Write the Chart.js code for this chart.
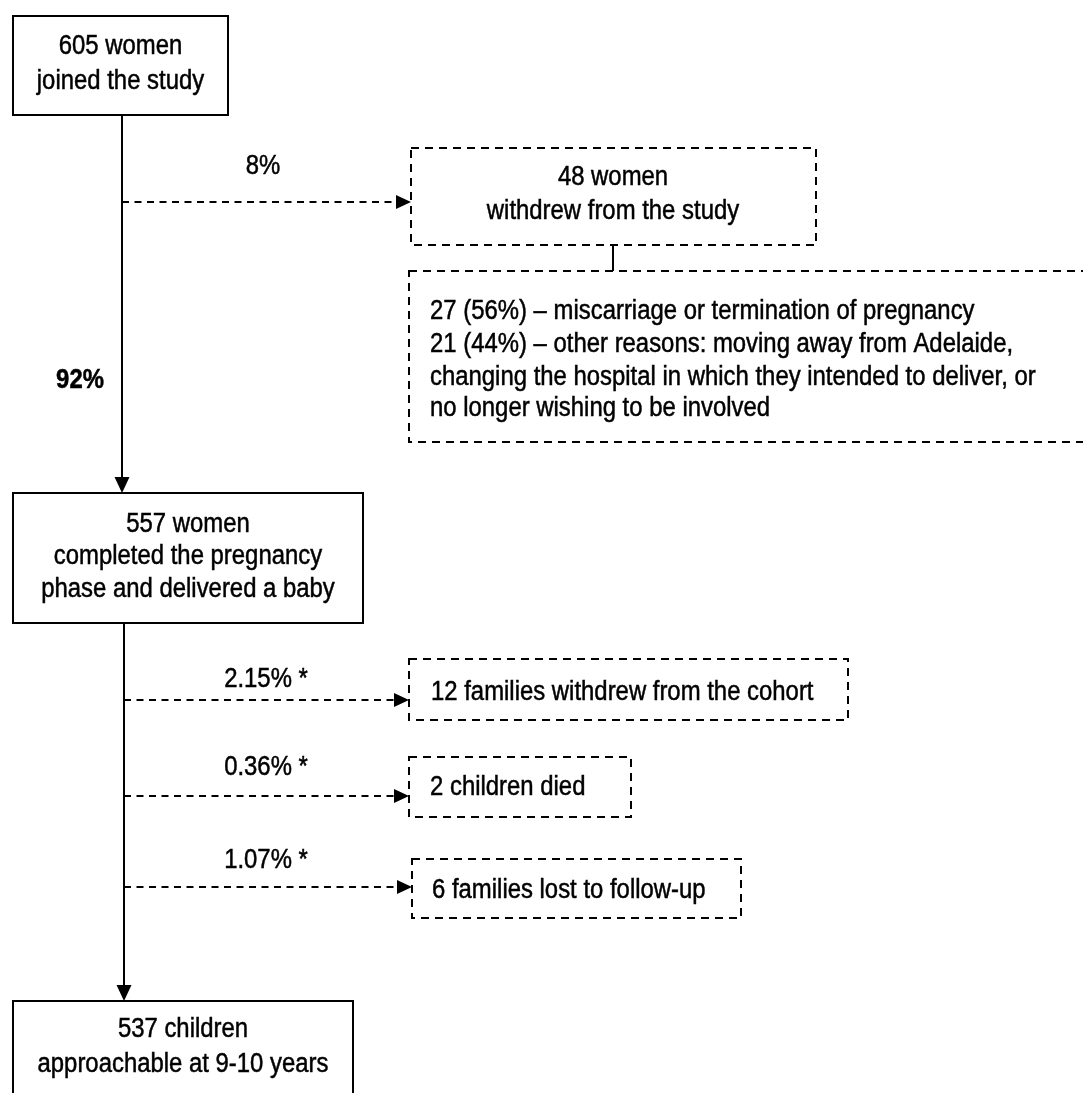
<!DOCTYPE html>
<html>
<head>
<meta charset="utf-8">
<script src="https://cdn.jsdelivr.net/npm/chart.js@4.4.0/dist/chart.umd.min.js"></script>
<style>
  html, body { margin: 0; padding: 0; background: #fff; }
  #wrap { width: 1083px; height: 1093px; position: relative; }
</style>
</head>
<body>
<div id="wrap"><canvas id="flow"></canvas></div>
<script>
// Cohort numbers
const stageCounts = [605, 557, 537];
const stageTexts = [
    ['women', 'joined the study'],
    ['women', 'completed the pregnancy', 'phase and delivered a baby'],
    ['children', 'approachable at 9-10 years']
];
const retainedLabel = '92%';
const exitCounts = [48, 12, 2, 6];
const exitTexts = ['women', 'families withdrew from the cohort', 'children died', 'families lost to follow-up'];
const exitSubText = 'withdrew from the study';
const exitPercents = ['8%', '2.15% *', '0.36% *', '1.07% *'];
const reasonLines = [
    '27 (56%) – miscarriage or termination of pregnancy',
    '21 (44%) – other reasons: moving away from Adelaide,',
    'changing the hospital in which they intended to deliver, or',
    'no longer wishing to be involved'
];

// Layout, in axis units (x 0-1083, y 0-1093 top-down)
const stageBoxes = [
    {x0: 13, y0: 16, x1: 228, y1: 115, cx: 120.5, lines: [54, 89]},
    {x0: 13, y0: 493, x1: 363, y1: 623, cx: 188, lines: [532, 564, 597]},
    {x0: 13, y0: 1001, x1: 353, y1: 1110, cx: 183, lines: [1037, 1072]}
];
const trunkX = [122, 124];
const exitBoxes = [
    {x0: 411, y0: 148, x1: 816, y1: 245, arrowY: 202, labelX: 263, labelY: 174, cx: 613, lines: [185, 219]},
    {x0: 409, y0: 659, x1: 848, y1: 720, arrowY: 700, labelX: 266, labelY: 687, tx: 431, lines: [700]},
    {x0: 409, y0: 757, x1: 631, y1: 817, arrowY: 796, labelX: 266, labelY: 775, tx: 430, lines: [795]},
    {x0: 412, y0: 859, x1: 741, y1: 918, arrowY: 887, labelX: 266, labelY: 868, tx: 432, lines: [898]}
];
const reasonBox = {x0: 409, y0: 271, x1: 1095, y1: 442, tx: 430, lines: [319, 352, 385, 416]};
const retainedPos = {x: 80, y: 388};

const FONT = "'Liberation Sans', Arial, sans-serif";
const SQUEEZE = 0.885;

const flowPlugin = {
    id: 'flow',
    afterDraw(chart) {
        const ctx = chart.ctx;
        const px = v => chart.scales.x.getPixelForValue(v);
        const py = v => chart.scales.y.getPixelForValue(v);

        function text(str, x, y, align, bold) {
            ctx.save();
            ctx.font = (bold ? 'bold ' : '') + '27px ' + FONT;
            ctx.fillStyle = '#000';
            ctx.strokeStyle = '#000';
            ctx.lineWidth = 0.5;
            ctx.textAlign = align;
            ctx.textBaseline = 'alphabetic';
            ctx.translate(px(x), py(y));
            ctx.scale(SQUEEZE, 1);
            ctx.fillText(str, 0, 0);
            ctx.strokeText(str, 0, 0);
            ctx.restore();
        }

        function rect(b, dashed) {
            ctx.save();
            ctx.strokeStyle = '#000';
            ctx.lineWidth = 2;
            ctx.setLineDash(dashed ? [8, 6] : []);
            ctx.strokeRect(px(b.x0), py(b.y0), px(b.x1) - px(b.x0), py(b.y1) - py(b.y0));
            ctx.restore();
        }

        function line(x0, y0, x1, y1, dashed) {
            ctx.save();
            ctx.strokeStyle = '#000';
            ctx.lineWidth = 2;
            ctx.setLineDash(dashed ? [7, 5.5] : []);
            ctx.beginPath();
            ctx.moveTo(px(x0), py(y0));
            ctx.lineTo(px(x1), py(y1));
            ctx.stroke();
            ctx.restore();
        }

        function head(x, y, dir) {
            // filled triangle, tip at (x, y)
            const tx = px(x), ty = py(y);
            ctx.save();
            ctx.fillStyle = '#000';
            ctx.beginPath();
            if (dir === 'down') {
                ctx.moveTo(tx, ty);
                ctx.lineTo(tx - 7.5, ty - 16);
                ctx.lineTo(tx + 7.5, ty - 16);
            } else {
                ctx.moveTo(tx, ty);
                ctx.lineTo(tx - 15, ty - 7);
                ctx.lineTo(tx - 15, ty + 7);
            }
            ctx.closePath();
            ctx.fill();
            ctx.restore();
        }

        // main trunk
        line(trunkX[0], stageBoxes[0].y1, trunkX[0], stageBoxes[1].y0 - 12, false);
        head(trunkX[0], stageBoxes[1].y0, 'down');
        line(trunkX[1], stageBoxes[1].y1, trunkX[1], stageBoxes[2].y0 - 12, false);
        head(trunkX[1], stageBoxes[2].y0, 'down');

        // stage boxes
        stageBoxes.forEach((b, i) => {
            rect(b, false);
            const lines = [stageCounts[i] + ' ' + stageTexts[i][0]].concat(stageTexts[i].slice(1));
            lines.forEach((s, j) => text(s, b.cx, b.lines[j], 'center'));
        });

        text(retainedLabel, retainedPos.x, retainedPos.y, 'center', true);

        // exits
        exitBoxes.forEach((b, i) => {
            const fromX = i === 0 ? trunkX[0] : trunkX[1];
            line(fromX, b.arrowY, b.x0 - 12, b.arrowY, true);
            head(b.x0, b.arrowY, 'right');
            rect(b, true);
            text(exitPercents[i], b.labelX, b.labelY, 'center');
            if (i === 0) {
                text(exitCounts[i] + ' ' + exitTexts[i], b.cx, b.lines[0], 'center');
                text(exitSubText, b.cx, b.lines[1], 'center');
            } else {
                text(exitCounts[i] + ' ' + exitTexts[i], b.tx, b.lines[0], 'left');
            }
        });

        // reasons for first withdrawal
        line(exitBoxes[0].cx, exitBoxes[0].y1, exitBoxes[0].cx, reasonBox.y0, false);
        rect(reasonBox, true);
        reasonLines.forEach((s, j) => text(s, reasonBox.tx, reasonBox.lines[j], 'left'));
    }
};

new Chart(document.getElementById('flow'), {
    type: 'scatter',
    data: {datasets: []},
    options: {
        responsive: true,
        maintainAspectRatio: false,
        animation: false,
        layout: {padding: 0},
        plugins: {legend: {display: false}, tooltip: {enabled: false}},
        scales: {
            x: {type: 'linear', min: 0, max: 1083, display: false},
            y: {type: 'linear', min: 0, max: 1093, reverse: true, display: false}
        }
    },
    plugins: [flowPlugin]
});
</script>
</body>
</html>
